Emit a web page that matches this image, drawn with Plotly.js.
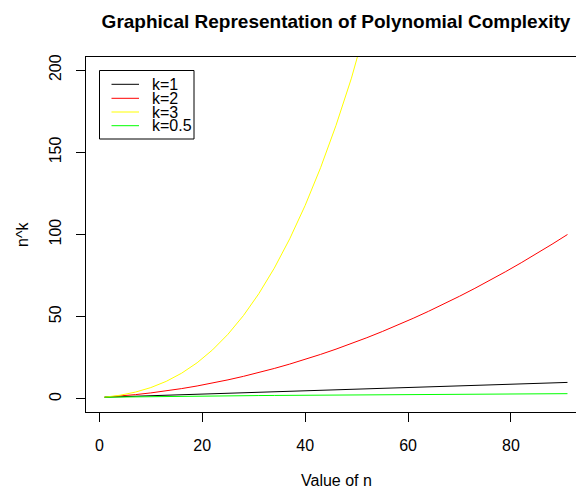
<!DOCTYPE html>
<html>
<head>
<meta charset="utf-8">
<script src="https://cdn.plot.ly/plotly-3.0.1.min.js"></script>
<style>
  html, body { margin: 0; padding: 0; overflow: hidden; background: #fff; width: 576px; height: 488px; }
  #chart { width: 600px; height: 488px; }
</style>
</head>
<body>
<div id="chart"></div>
<script>
// index positions (x) and values n^k
const xIndex = [1, 4, 7, 10, 13, 16, 19, 22, 25, 28, 31, 34, 37, 40, 43, 46, 49, 52, 55, 58, 61, 64, 67, 70, 73, 76, 79, 82, 85, 88, 91];
const k1 = [1.0, 1.3, 1.6, 1.9, 2.2, 2.5, 2.8, 3.1, 3.4, 3.7, 4.0, 4.3, 4.6, 4.9, 5.2, 5.5, 5.8, 6.1, 6.4, 6.7, 7.0, 7.3, 7.6, 7.9, 8.2, 8.5, 8.8, 9.1, 9.4, 9.7, 10.0];
const k2 = [1, 1.69, 2.56, 3.61, 4.84, 6.25, 7.84, 9.61, 11.56, 13.69, 16, 18.49, 21.16, 24.01, 27.04, 30.25, 33.64, 37.21, 40.96, 44.89, 49, 53.29, 57.76, 62.41, 67.24, 72.25, 77.44, 82.81, 88.36, 94.09, 100];
const k3 = [1, 2.197, 4.096, 6.859, 10.648, 15.625, 21.952, 29.791, 39.304, 50.653, 64, 79.507, 97.336, 117.649, 140.608, 166.375, 195.112, 226.981, 262.144, 300.763, 343, 389.017, 438.976, 493.039, 551.368, 614.125, 681.472, 753.571, 830.584, 912.673, 1000];
const k05 = [1, 1.140, 1.265, 1.378, 1.483, 1.581, 1.673, 1.761, 1.844, 1.924, 2, 2.074, 2.145, 2.214, 2.280, 2.345, 2.408, 2.470, 2.530, 2.588, 2.646, 2.702, 2.757, 2.811, 2.864, 2.915, 2.966, 3.017, 3.066, 3.114, 3.162];
const seriesNames = ["k=1", "k=2", "k=3", "k=0.5"];
const seriesColors = ["#000000", "#FF0000", "#FFFF00", "#00FF00"];
const xTicks = [0, 20, 40, 60, 80];
const yTicks = [0, 50, 100, 150, 200];

const FONT = "Liberation Sans, Arial, sans-serif";
const W = 600, H = 488;
const M = { l: 86, r: 14, t: 57, b: 76 };
const PW = W - M.l - M.r, PH = H - M.t - M.b;
const px = v => (v - M.l) / PW;
const py = v => 1 - (v - M.t) / PH;

const allY = [k1, k2, k3, k05];
const traces = allY.map((ys, i) => ({
  type: "scatter", mode: "lines", x: xIndex, y: ys, name: seriesNames[i],
  line: { color: seriesColors[i], width: 1 }, showlegend: false, hoverinfo: "skip"
}));

// manual legend (R style)
const shapes = [{
  type: "rect", xref: "paper", yref: "paper",
  x0: px(99.5), x1: px(194), y0: py(139), y1: py(70.5),
  line: { color: "#000", width: 1 }, fillcolor: "rgba(0,0,0,0)"
}];
const annotations = [];
const rowY = [84.3, 98.3, 112, 125.7];
seriesNames.forEach((nm, i) => {
  shapes.push({ type: "line", xref: "paper", yref: "paper",
    x0: px(111.5), x1: px(139), y0: py(rowY[i]), y1: py(rowY[i]),
    line: { color: seriesColors[i], width: 1 } });
  annotations.push({ xref: "paper", yref: "paper", x: px(150), y: py(rowY[i]),
    xanchor: "left", yanchor: "middle", text: nm, showarrow: false,
    font: { family: FONT, size: 16, color: "#000" } });
});
annotations.push({ xref: "paper", yref: "paper", x: 0.5, y: py(480), xanchor: "center", yanchor: "middle",
  text: "Value of n", showarrow: false, font: { family: FONT, size: 16, color: "#000" } });
annotations.push({ xref: "paper", yref: "paper", x: px(22), y: py(235), xanchor: "center", yanchor: "middle",
  text: "n^k", textangle: -90, showarrow: false, font: { family: FONT, size: 16, color: "#000" } });

const layout = {
  width: W, height: H, margin: M, paper_bgcolor: "#fff", plot_bgcolor: "#fff",
  font: { family: FONT, size: 16, color: "#000" },
  title: { text: "<b>Graphical Representation of Polynomial Complexity</b>",
    xref: "paper", x: 0.5, xanchor: "center", yref: "container", y: 1 - 21 / H, yanchor: "middle",
    font: { family: FONT, size: 19, color: "#000" } },
  xaxis: { range: [-2.6, 94.6], tickvals: xTicks, ticktext: xTicks.map(String), showgrid: false, zeroline: false,
    showline: true, mirror: true, linecolor: "#000", linewidth: 1,
    ticks: "outside", ticklen: 9, tickcolor: "#000", tickwidth: 1, ticklabelstandoff: 10,
    tickfont: { family: FONT, size: 16, color: "#000" } },
  yaxis: { range: [-8, 208], tickvals: yTicks, ticktext: yTicks.map(String), showgrid: false, zeroline: false,
    showline: true, mirror: true, linecolor: "#000", linewidth: 1,
    ticks: "outside", ticklen: 9, tickcolor: "#000", tickwidth: 1, tickangle: -90, ticklabelstandoff: 9,
    tickfont: { family: FONT, size: 16, color: "#000" } },
  shapes: shapes, annotations: annotations, showlegend: false
};

Plotly.newPlot("chart", traces, layout, { staticPlot: true, displayModeBar: false });
</script>
</body>
</html>
